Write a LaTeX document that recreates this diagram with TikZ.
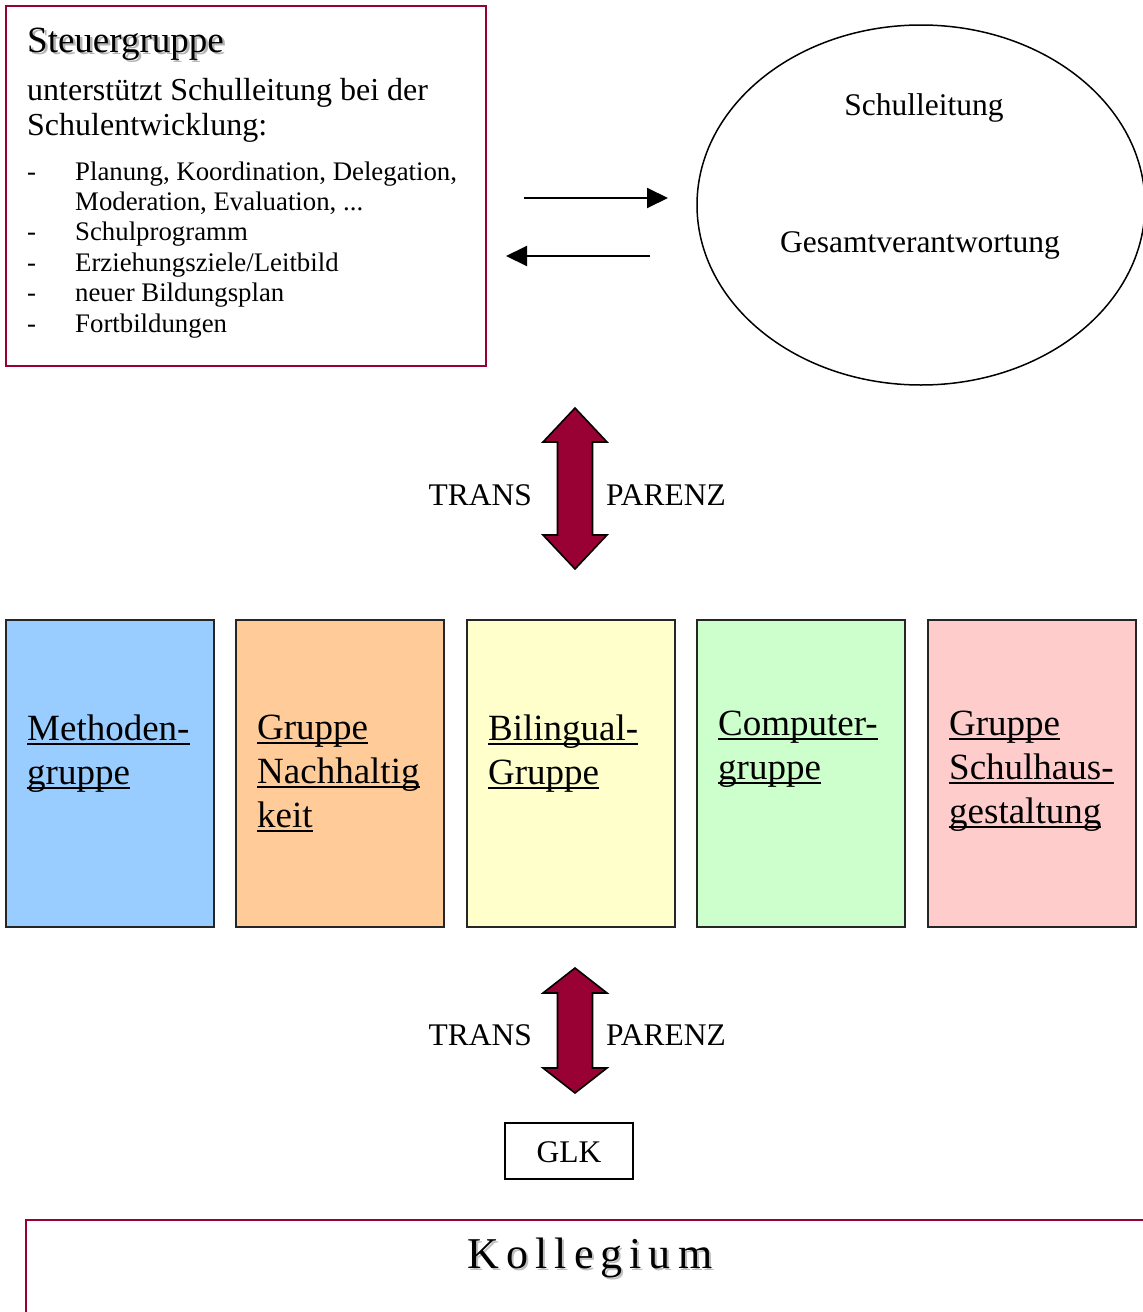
\documentclass[tikz,border=0pt]{standalone}
\usepackage{fontspec}
\setmainfont{Liberation Serif}
\newfontfamily\kollfont[LetterSpace=16]{Liberation Serif}
\usetikzlibrary{shapes.geometric,arrows.meta,calc}
\definecolor{crim}{HTML}{990033}
\definecolor{gblue}{HTML}{99CCFF}
\definecolor{gorange}{HTML}{FFCC99}
\definecolor{gyellow}{HTML}{FFFFCC}
\definecolor{ggreen}{HTML}{CCFFCC}
\definecolor{gpink}{HTML}{FFCCCC}
\newcommand\myul[1]{\setbox0\hbox{#1}\rlap{\rule[-4.5pt]{\wd0}{2pt}}\box0}
\tikzset{
  gbox/.style={draw=black!85, line width=2pt, minimum width=208pt, minimum height=307pt, inner sep=0pt},
  gtext/.style={anchor=base west, inner sep=0pt, font=\fontsize{37}{44}\selectfont},
  tp/.style={inner sep=0pt, font=\fontsize{31.5}{36}\selectfont},
  dblarrow/.style={fill=crim, draw=black, line width=1.6pt, line join=miter},
  sarrow/.style={line width=2pt, -{Triangle[length=21pt,width=20pt]}}
}
\begin{document}
\begin{tikzpicture}[x=1pt,y=-1pt]
\useasboundingbox (0,0) rectangle (1143,1312);
\clip (0,0) rectangle (1143,1312);

% Steuergruppe box
\node[draw=crim, line width=2pt, minimum width=480pt, minimum height=360pt, inner sep=0pt] (sg) at (246,186) {};
\node[anchor=base west, inner sep=0pt, font=\fontsize{37}{42}\selectfont, text=black!30] (sgsh) at (29.5,54.5) {Steuergruppe};
\node[anchor=base west, inner sep=0pt, font=\fontsize{37}{42}\selectfont] (sgt) at (27,52) {Steuergruppe};
\node[anchor=base west, inner sep=0pt, font=\fontsize{32}{35}\selectfont] (sgd) at (27,100)
  {\vtop{\baselineskip=35pt\hbox{unterstützt Schulleitung bei der}\hbox{Schulentwicklung:}}};
\node[anchor=base west, inner sep=0pt, font=\fontsize{26.8}{30.4}\selectfont] (sgl) at (27,180)
  {\vtop{\baselineskip=30.4pt
   \hbox{\makebox[48pt][l]{-}Planung, Koordination, Delegation,}
   \hbox{\hspace{48pt}Moderation, Evaluation, ...}
   \hbox{\makebox[48pt][l]{-}Schulprogramm}
   \hbox{\makebox[48pt][l]{-}Erziehungsziele/Leitbild}
   \hbox{\makebox[48pt][l]{-}neuer Bildungsplan}
   \hbox{\makebox[48pt][l]{-}Fortbildungen}}};

% Schulleitung ellipse
\node[draw, ellipse, line width=1.5pt, minimum width=448pt, minimum height=360pt, inner sep=0pt] (sl) at (921,205) {};
\node[tp, anchor=base] (slt) at (924,115) {Schulleitung};
\node[tp, anchor=base] (sgv) at (920,252) {Gesamtverantwortung};

% arrows between
\coordinate (a1s) at (524,198);
\coordinate (a1e) at (668,198);
\coordinate (a2s) at (650,256);
\coordinate (a2e) at (506,256);
\draw[sarrow] (a1s) -- (a1e);
\draw[sarrow] (a2s) -- (a2e);

% upper double arrow
\draw[dblarrow] (575,408) -- (607,442) -- (592.5,442) -- (592.5,535) -- (607,535) -- (575,569)
  -- (543,535) -- (557.5,535) -- (557.5,442) -- (543,442) -- cycle;
\node[tp, anchor=base east] (tr1) at (532,505) {TRANS};
\node[tp, anchor=base west] (pa1) at (606,505) {PARENZ};

% groups
\node[gbox, fill=gblue]   (g1) at (110,773.5) {};
\node[gbox, fill=gorange] (g2) at (340,773.5) {};
\node[gbox, fill=gyellow] (g3) at (571,773.5) {};
\node[gbox, fill=ggreen]  (g4) at (801,773.5) {};
\node[gbox, fill=gpink]   (g5) at (1032,773.5) {};
\node[gtext] (t1) at (27,740) {\vtop{\baselineskip=44pt\hbox{\myul{Methoden-}}\hbox{\myul{gruppe}}}};
\node[gtext] (t2) at (257,739) {\vtop{\baselineskip=44pt\hbox{\myul{Gruppe}}\hbox{\myul{Nachhaltig}}\hbox{\myul{keit}}}};
\node[gtext] (t3) at (488,740) {\vtop{\baselineskip=44pt\hbox{\myul{Bilingual-}}\hbox{\myul{Gruppe}}}};
\node[gtext] (t4) at (718,735) {\vtop{\baselineskip=44pt\hbox{\myul{Computer-}}\hbox{\myul{gruppe}}}};
\node[gtext] (t5) at (949,735) {\vtop{\baselineskip=44pt\hbox{\myul{Gruppe}}\hbox{\myul{Schulhaus-}}\hbox{\myul{gestaltung}}}};

% lower double arrow
\draw[dblarrow] (575,968) -- (607,993) -- (592.5,993) -- (592.5,1068) -- (607,1068) -- (575,1093)
  -- (543,1068) -- (557.5,1068) -- (557.5,993) -- (543,993) -- cycle;
\node[tp, anchor=base east] (tr2) at (532,1045) {TRANS};
\node[tp, anchor=base west] (pa2) at (606,1045) {PARENZ};

% GLK
\node[draw, line width=2pt, minimum width=128pt, minimum height=56pt, inner sep=0pt] (glk) at (569,1151) {};
\node[tp, anchor=base] (glkt) at (569,1162) {GLK};

% Kollegium
\node[draw=crim, line width=2pt, anchor=north west, minimum width=1200pt, minimum height=200pt, inner sep=0pt] (kol) at (25,1219) {};
\node[anchor=base, inner sep=0pt, text=black!25] (ktsh) at (592,1270.5) {\kollfont\fontsize{44}{50}\selectfont Kollegium};
\node[anchor=base, inner sep=0pt] (kt) at (590,1268) {\kollfont\fontsize{44}{50}\selectfont Kollegium};
\end{tikzpicture}
\end{document}
